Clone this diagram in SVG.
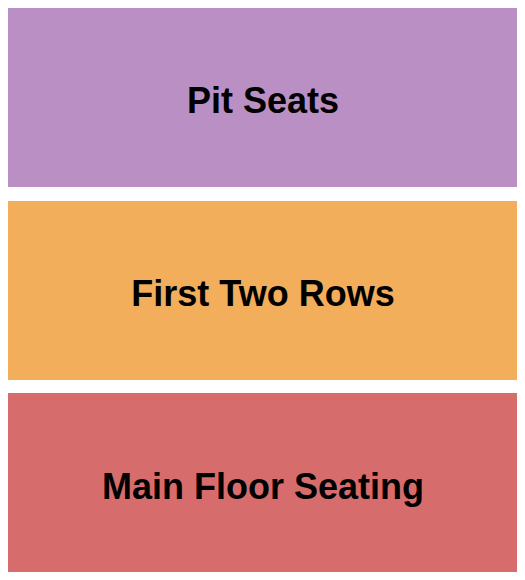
<svg xmlns="http://www.w3.org/2000/svg" width="525" height="580" viewBox="0 0 525 580">
<style>
.lbl{font-family:"Liberation Sans",Arial,sans-serif;font-weight:bold;font-size:36px;fill:#000;text-anchor:middle}
</style>
<rect width="525" height="580" fill="#fff"/>
<g id="pit-seats">
<rect x="8" y="8" width="509" height="179" fill="#BA8FC3"/>
<text class="lbl" x="263" y="113">Pit Seats</text>
</g>
<g id="first-two-rows">
<rect x="8" y="201" width="509" height="179" fill="#F2AE5A"/>
<text class="lbl" x="263" y="306">First Two Rows</text>
</g>
<g id="main-floor">
<rect x="8" y="393" width="509" height="179" fill="#D76C6D"/>
<text class="lbl" x="263" y="499">Main Floor Seating</text>
</g>
<g id="connectors"></g>
</svg>
